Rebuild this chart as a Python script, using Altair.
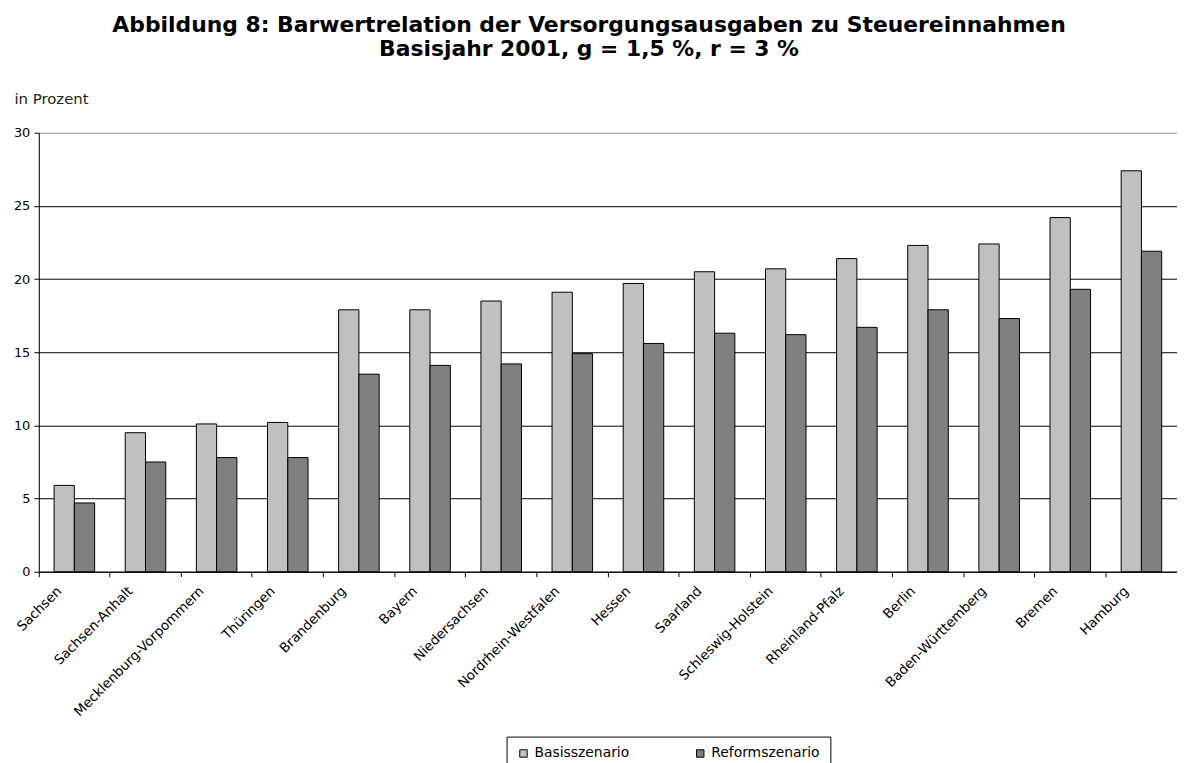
import altair as alt
import pandas as pd

states = ["Sachsen", "Sachsen-Anhalt", "Mecklenburg-Vorpommern", "Thüringen",
          "Brandenburg", "Bayern", "Niedersachsen", "Nordrhein-Westfalen",
          "Hessen", "Saarland", "Schleswig-Holstein", "Rheinland-Pfalz",
          "Berlin", "Baden-Württemberg", "Bremen", "Hamburg"]
basis = [5.9, 9.5, 10.1, 10.2, 17.9, 17.9, 18.5, 19.1, 19.7, 20.5, 20.7,
         21.4, 22.3, 22.4, 24.2, 27.4]
reform = [4.7, 7.5, 7.8, 7.8, 13.5, 14.1, 14.2, 14.9, 15.6, 16.3, 16.2,
          16.7, 17.9, 17.3, 19.3, 21.9]
series = ["Basisszenario", "Reformszenario"]
colors = ["#C0C0C0", "#808080"]
y_ticks = [0, 5, 10, 15, 20, 25, 30]

rows = []
for s, b, r in zip(states, basis, reform):
    rows.append({"Land": s, "Szenario": series[0], "Wert": b})
    rows.append({"Land": s, "Szenario": series[1], "Wert": r})
df = pd.DataFrame(rows)

FONT = "DejaVu Sans"

chart = alt.Chart(df).mark_bar(stroke="black", strokeWidth=1).encode(
    x=alt.X("Land:N", sort=states,
            scale=alt.Scale(paddingInner=0, paddingOuter=0),
            axis=alt.Axis(title=None, bandPosition=0, labelAngle=-45,
                          labelAlign="right", labelBaseline="middle",
                          labelOffset=-15, labelPadding=12, tickSize=5,
                          tickColor="black", domainColor="black",
                          labelFont=FONT, labelFontSize=13.5,
                          labelColor="black", labelOverlap=False,
                          labelBound=False, labelFlush=False, grid=False)),
    xOffset=alt.XOffset("Szenario:N", sort=series,
                        scale=alt.Scale(paddingInner=0, paddingOuter=0.755)),
    y=alt.Y("Wert:Q", scale=alt.Scale(domain=[0, 30], nice=False),
            axis=alt.Axis(values=y_ticks, title="in Prozent", titleAngle=0,
                          titleAlign="left", titleBaseline="alphabetic",
                          titleX=-25, titleY=-29, titleFont=FONT,
                          titleFontSize=15, titleFontWeight="normal",
                          titleColor="#222222",
                          labelFont=FONT, labelFontSize=13,
                          labelColor="black", labelPadding=4, tickSize=5,
                          tickColor="black", domainColor="black",
                          grid=True,
                          gridColor=alt.condition("datum.value == 30",
                                                  alt.value("#a0a0a0"),
                                                  alt.value("black")),
                          gridWidth=1)),
    color=alt.Color("Szenario:N", sort=series,
                    scale=alt.Scale(domain=series, range=colors),
                    legend=alt.Legend(title=None, orient="none",
                                      direction="horizontal",
                                      legendX=471, legendY=608,
                                      strokeColor="black", padding=10,
                                      symbolType="square", symbolSize=56,
                                      symbolStrokeColor="black",
                                      symbolStrokeWidth=1,
                                      symbolOffset=0,
                                      labelFont=FONT, labelFontSize=14,
                                      labelColor="black", labelOffset=4,
                                      columnPadding=64)),
).properties(
    width=1146,
    height=442,
    title=alt.TitleParams(
        text=["Abbildung 8: Barwertrelation der Versorgungsausgaben zu Steuereinnahmen",
              "Basisjahr 2001, g = 1,5 %, r = 3 %"],
        font=FONT, fontSize=22, fontWeight="bold", color="black",
        anchor="middle", dx=-19, offset=31, lineHeight=24),
    autosize=alt.AutoSizeParams(type="none"),
    padding={"left": 31, "top": 123, "right": 0, "bottom": 190},
).configure_view(stroke=None).configure(background="white")

chart.save("out.html", embed_options={"renderer": "svg", "actions": False})
